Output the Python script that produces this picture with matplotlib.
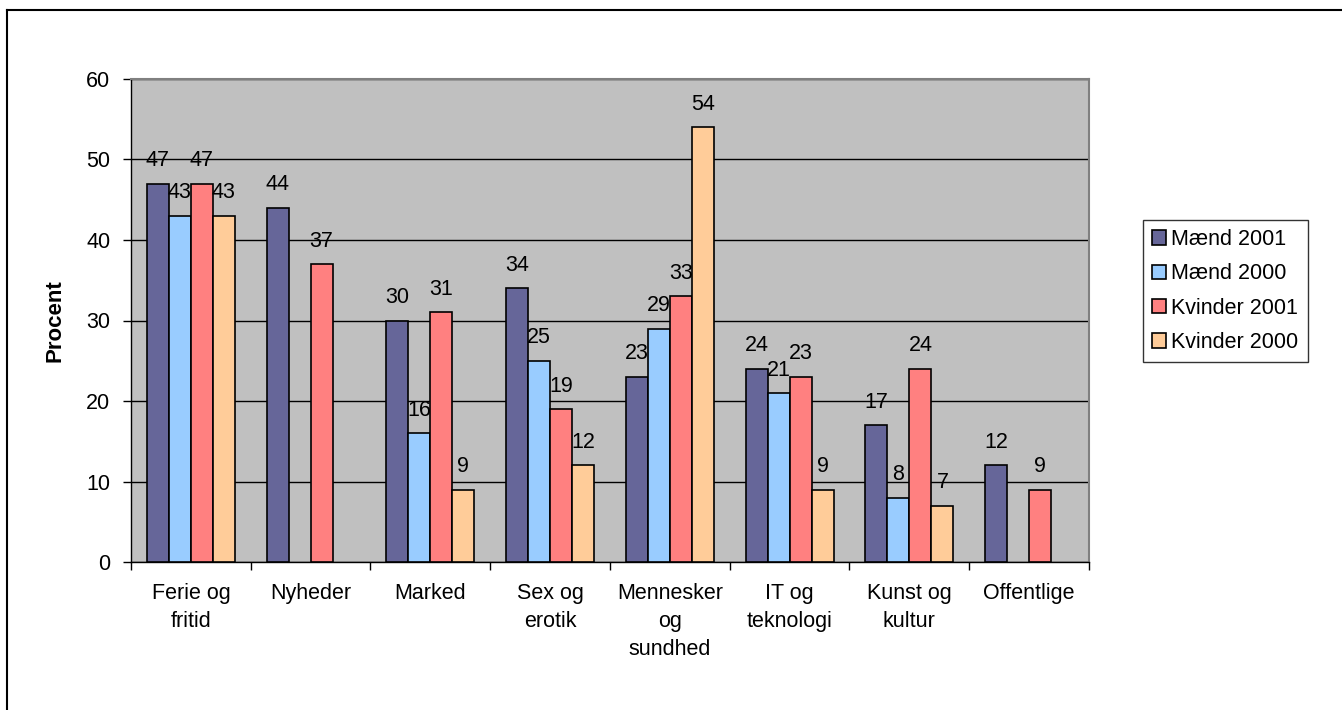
import numpy as np
import matplotlib.pyplot as plt
from matplotlib.lines import Line2D

plt.rcParams['font.family'] = ['Liberation Sans', 'DejaVu Sans']

categories = ["Ferie og\nfritid", "Nyheder", "Marked", "Sex og\nerotik",
              "Mennesker\nog\nsundhed", "IT og\nteknologi", "Kunst og\nkultur",
              "Offentlige"]
series_names = ["Mænd 2001", "Mænd 2000", "Kvinder 2001", "Kvinder 2000"]
maend_2001 = [47, 44, 30, 34, 23, 24, 17, 12]
maend_2000 = [43, np.nan, 16, 25, 29, 21, 8, np.nan]
kvinder_2001 = [47, 37, 31, 19, 33, 23, 24, 9]
kvinder_2000 = [43, np.nan, 9, 12, 54, 9, 7, np.nan]
colors = ["#666699", "#99CCFF", "#FF8080", "#FFCC99"]

FS = 15.5
W, H = 1342, 710
fig = plt.figure(figsize=(W / 100, H / 100), dpi=100)
ax = fig.add_axes([131 / W, 1 - 562 / H, (1089 - 131) / W, (562 - 79) / H])
ax.set_facecolor("#C0C0C0")

x = np.arange(len(categories))
width = 0.184
all_series = [maend_2001, maend_2000, kvinder_2001, kvinder_2000]
for i, (vals, name, col) in enumerate(zip(all_series, series_names, colors)):
    pos = x + (i - 1.5) * width
    vals = np.array(vals, dtype=float)
    ax.bar(pos, vals, width, color=col, edgecolor="black", linewidth=1.2,
           label=name, zorder=3)
    for p, v in zip(pos, vals):
        if np.isnan(v):
            continue
        ax.annotate(f"{v:.0f}", (p, v), xytext=(0, 12.5), textcoords="offset points",
                    ha="center", va="baseline", fontsize=FS, zorder=4)

ax.set_xlim(-0.5, len(categories) - 0.5)
ax.set_ylim(0, 60)
ax.set_yticks(range(0, 61, 10))
ax.yaxis.grid(True, color="black", linewidth=1, zorder=1)
ax.set_axisbelow(True)

ax.set_xticks(x)
ax.set_xticklabels(categories, fontsize=FS, linespacing=1.45, va="top")
ax.tick_params(axis="x", length=0, pad=15)
ax.set_xticks(np.arange(-0.5, len(categories)), minor=True)
ax.tick_params(axis="x", which="minor", length=6, width=1, direction="out")
ax.tick_params(axis="y", length=6, width=1, direction="out", labelsize=FS, pad=9)

for s in ["top", "right"]:
    ax.spines[s].set_color("#808080")
    ax.spines[s].set_linewidth(1.5)
for s in ["left", "bottom"]:
    ax.spines[s].set_color("black")
    ax.spines[s].set_linewidth(1)

ax.set_ylabel("Procent", fontsize=16, fontweight="bold", labelpad=15)

leg = ax.legend(loc="upper left", bbox_to_anchor=(1143 / W, 1 - 220 / H),
                bbox_transform=fig.transFigure, fontsize=FS, frameon=True,
                fancybox=False, edgecolor="black", handlelength=0.65,
                handleheight=0.65, handletextpad=0.25, labelspacing=0.62,
                borderpad=0.42, borderaxespad=0)
leg.get_frame().set_linewidth(1)

fig.add_artist(Line2D([7 / W, 7 / W], [0, 1 - 10 / H], color="black", lw=1.5,
                      transform=fig.transFigure))
fig.add_artist(Line2D([7 / W, 1], [1 - 10 / H, 1 - 10 / H], color="black", lw=1.5,
                      transform=fig.transFigure))

fig.savefig("out.png", dpi=100)
